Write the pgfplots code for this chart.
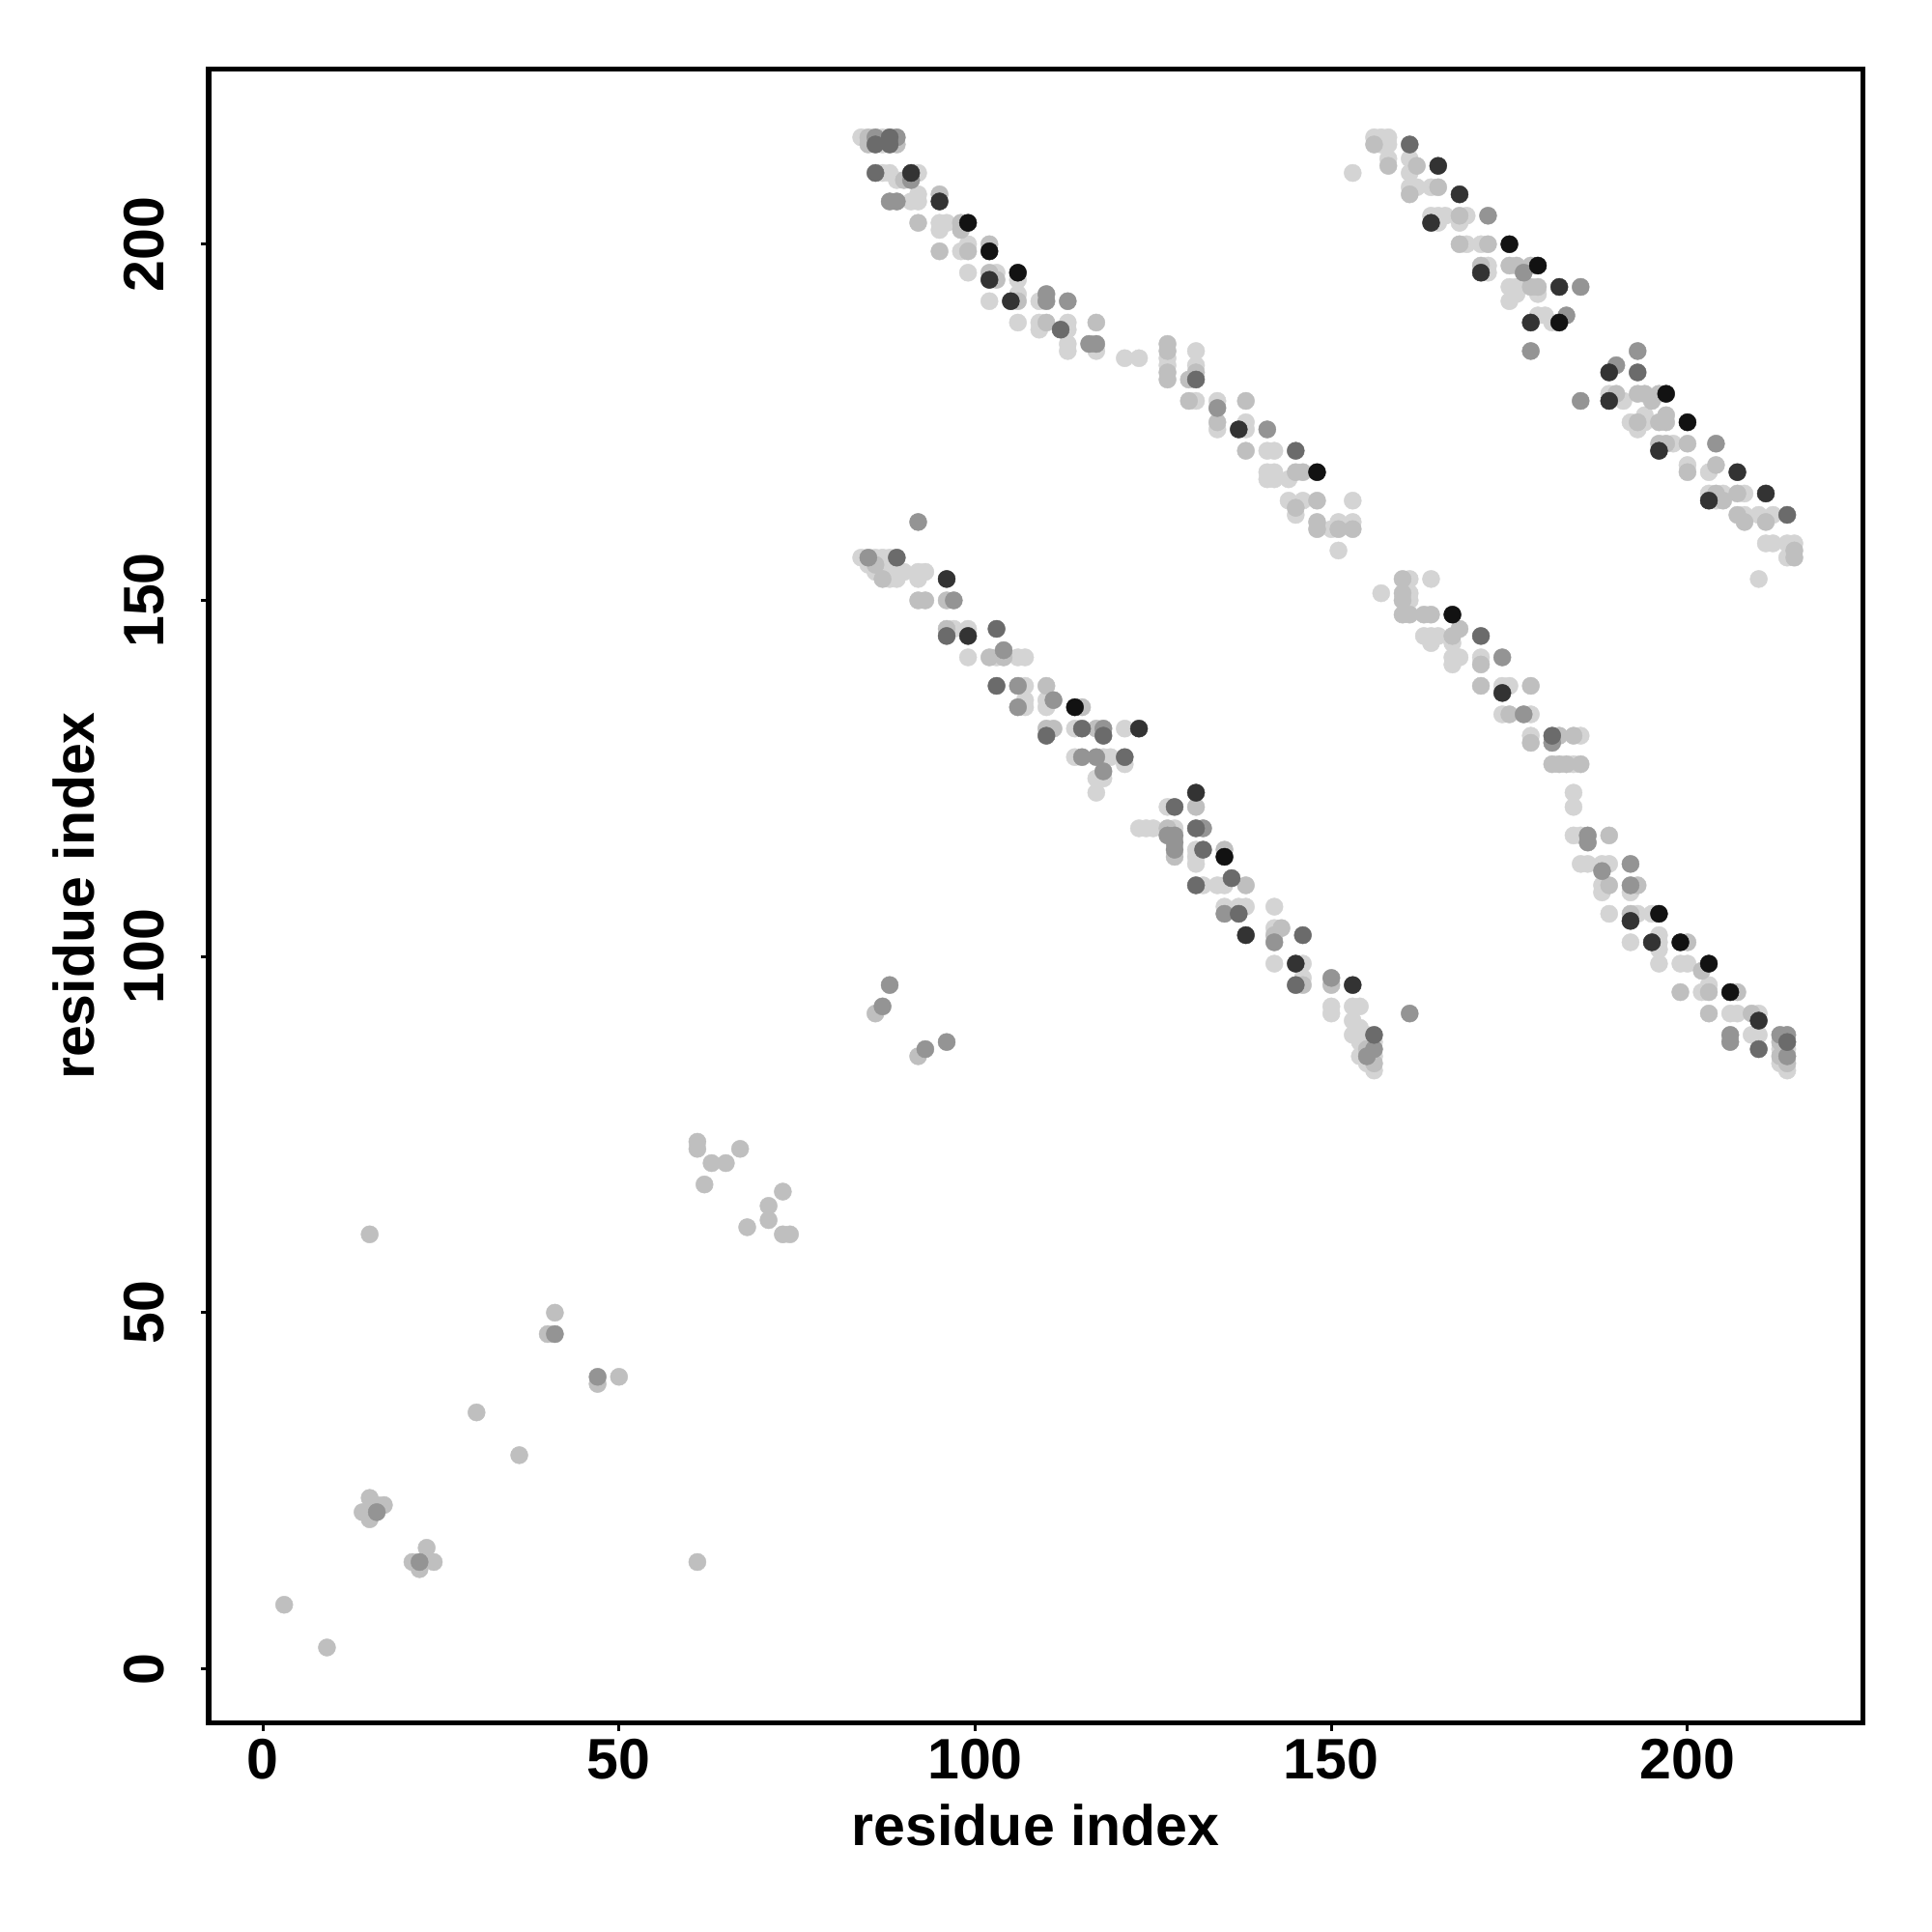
\documentclass[border=0pt]{standalone}
\usepackage{fontspec}
\setmainfont{Liberation Sans}
\usepackage{pgfplots}
\pgfplotsset{compat=1.18}
\definecolor{c1}{gray}{0.83}
\definecolor{c2}{gray}{0.75}
\definecolor{c3}{gray}{0.58}
\definecolor{c4}{gray}{0.42}
\definecolor{c5}{gray}{0.20}
\definecolor{c6}{gray}{0.07}
\begin{document}
\fontsize{13.8}{16}\selectfont\bfseries
\begin{tikzpicture}
\begin{axis}[
 scale only axis, width=400pt, height=400pt,
 xmin=-7.6, xmax=224.6, ymin=-7.6, ymax=224.6,
 xtick={0,50,100,150,200}, ytick={0,50,100,150,200},
 tick pos=left, tick align=outside, major tick length=1.9pt,
 every tick/.style={line width=0.7pt, black},
 axis line style={line width=1.2pt},
 ticklabel style={font=\fontsize{13.8}{16}\selectfont\bfseries},
 /pgf/number format/assume math mode=true,
 xticklabel style={anchor=north, inner sep=0pt},
 yticklabel style={rotate=90, anchor=south, inner sep=0pt},
 xticklabel shift=1.8pt, yticklabel shift=8.6pt,
 every axis x label/.style={at={(axis description cs:0.5,0)}, yshift=-24.8pt, anchor=center},
 every axis y label/.style={at={(axis description cs:0,0.5)}, xshift=-32.6pt, rotate=90, anchor=center},
 label style={font=\fontsize{13.8}{16}\selectfont\bfseries},
 xlabel={residue index}, ylabel={residue index},
 every axis plot/.append style={only marks, mark=*, mark size=2.1pt, mark options={line width=0.1pt}},
]
\addplot[color=c1] coordinates {
(84,215) (87,215) (87,214) (87,210) (88,210) (89,209) (92,210) (91,206) (92,206) (92,207)
(95,203) (96,203) (95,202) (98,199) (99,200) (99,196) (103,196) (106,195) (102,192) (106,193)
(109,192) (106,189) (109,189) (109,188) (113,189) (113,188) (113,186) (113,185) (117,185) (121,184)
(123,184) (127,184) (127,183) (131,185) (131,183) (131,178) (134,178) (134,174) (138,175) (138,174)
(141,171) (142,171) (141,168) (142,168) (141,167) (142,167) (144,167) (144,164) (146,164) (153,164)
(145,162) (150,160) (151,161) (153,161) (151,157) (153,210)
(156,215) (157,215) (158,215) (157,214) (158,214) (158,212) (161,212) (161,210) (161,208) (162,208)
(164,208) (164,204) (165,204) (166,204) (169,204) (165,203) (168,203) (169,200) (171,200) (172,197)
(172,196) (175,194) (176,194) (175,192) (176,193) (179,193) (179,190) (180,190) (181,189)
(189,179) (191,178) (192,175) (194,175) (194,176) (193,174) (198,172) (200,169) (203,168) (203,165)
(205,165) (208,165) (204,164) (208,162) (210,162) (212,162) (211,158) (212,158) (214,158) (215,158)
(214,156) (210,153)
(84,156) (86,156) (87,156) (88,156) (85,155) (87,155) (86,154) (87,154) (88,154) (89,154)
(90,154) (92,154) (93,154) (88,153) (89,153) (92,153) (97,146) (99,146) (99,142) (103,142)
(106,142) (107,142) (107,138) (107,135) (110,135) (107,136) (110,136) (114,132) (121,132) (114,128)
(118,128) (119,128) (121,127) (117,125) (118,125) (117,123)
(127,121) (123,118) (124,118) (125,118) (128,118) (131,115) (131,113) (131,114) (132,110) (134,110)
(135,110) (135,107) (137,107) (138,107) (142,107) (142,104) (142,99) (146,99) (146,97) (150,93)
(150,92) (153,93) (154,93) (153,91) (154,90) (153,89) (154,88) (155,89) (156,88) (156,86)
(156,84) (155,85) (154,86)
(161,153) (164,153) (157,151) (161,151) (161,150) (163,145) (164,145) (164,144) (165,145) (167,144)
(167,142) (168,142) (171,142) (167,141) (174,138) (175,138) (174,134) (178,134) (178,131) (185,131)
(184,127) (184,123) (184,121) (184,117) (185,117) (185,113) (186,113) (188,113) (189,113) (188,110)
(188,109) (192,109) (189,106) (193,106) (195,106) (192,102) (196,103) (196,102) (196,101) (196,99)
(199,99) (200,99) (202,95) (203,96) (206,92) (207,92) (210,92) (209,89) (210,89) (213,87)
(214,87) (213,85) (214,84)
};
\addplot[color=c2] coordinates {
(85,215) (85,214) (89,214) (90,209) (95,207) (92,203) (98,203) (98,202) (95,199) (99,199)
(102,200) (102,196) (103,195) (106,192) (110,189) (117,189) (127,186) (127,185) (127,182) (127,181)
(131,182) (130,181) (130,178) (138,178) (134,175) (138,171) (145,168) (146,168) (145,163) (148,164)
(148,161) (148,160) (151,160) (153,160)
(156,214) (158,211) (162,211) (165,208) (161,207) (168,204) (168,200) (172,200) (171,197) (175,197)
(176,197) (178,197) (178,194) (179,194)
(190,179) (193,179) (194,179) (196,179) (195,178) (193,175) (196,175) (197,175) (197,176) (196,172)
(197,172) (200,172) (200,168) (204,169) (204,165) (207,165) (205,164) (207,162) (208,161) (211,161)
(215,157) (215,156)
(86,155) (87,153) (92,150) (93,150) (96,150) (96,146) (102,142) (104,142) (110,138) (115,135)
(110,132) (111,132) (117,132)
(127,118) (131,121) (128,114) (135,115) (138,110) (143,104) (142,103) (146,96) (150,96) (155,87)
(156,85)
(160,153) (160,151) (160,150) (160,148) (161,148) (163,148) (164,148) (167,145) (168,146) (171,141)
(171,138) (178,138) (175,134) (178,130) (182,131) (184,131) (181,127) (182,127) (183,127) (185,127)
(189,117) (189,110) (193,110) (192,106) (200,102) (202,98) (199,95) (203,95) (207,95) (203,92)
(209,92) (213,88) (213,86) (214,85)
(3,9) (9,3) (15,61) (14,22) (15,24) (15,21) (17,23) (16,23) (21,15) (22,14)
(23,17) (24,15) (30,36) (36,30) (40,47) (41,50) (47,40) (50,41) (61,15) (61,74)
(61,73) (62,68) (63,71) (65,71) (67,73) (68,62) (71,65) (71,63) (73,67) (73,61)
(74,61) (86,92) (92,86)
};
\addplot[color=c3] coordinates {
(86,215) (89,215) (91,209) (88,206) (89,206) (110,193) (110,192) (113,192) (116,186) (117,186)
(134,177) (141,174)
(172,204) (177,196) (185,194) (183,190) (178,185) (193,185) (190,183) (185,178) (204,172)
(92,161) (85,156) (97,150) (104,143) (106,138) (106,135) (111,136) (118,132) (115,128) (117,128)
(118,126)
(127,117) (128,117) (128,116) (128,115) (132,118) (135,106) (142,102) (150,97) (161,92) (155,86)
(156,87)
(174,142) (177,134) (181,130) (186,117) (186,116) (188,112) (192,113) (192,110) (206,89) (206,88)
(213,89) (214,89) (214,86)
(16,22) (22,15) (41,47) (47,41) (88,96) (87,93) (93,87) (96,88)
};
\addplot[color=c4] coordinates {
(88,215) (86,214) (88,214) (86,210) (112,188) (131,181) (145,171) (161,214) (193,182) (214,162)
(89,156) (96,145) (103,146) (103,138) (110,131) (115,132) (118,131) (121,128)
(128,121) (131,118) (132,115) (131,110) (136,111) (137,106) (146,103) (145,96) (156,89)
(171,145) (181,131) (210,87) (214,88)
};
\addplot[color=c5] coordinates {
(91,210) (95,206) (102,195) (105,192) (137,174) (165,211) (168,207) (164,203) (171,196) (182,194)
(178,189) (189,182) (189,178) (196,171) (207,168) (203,164) (211,165)
(96,153) (99,145) (123,132) (131,123) (138,103) (145,99) (153,96) (174,137) (192,105)
(195,102) (210,91)
};
\addplot[color=c6] coordinates {
(99,203) (102,199) (106,196) (148,168) (175,200) (179,197) (182,189) (197,179) (200,175) (114,135)
(135,114) (167,148) (196,106) (199,102) (203,99) (206,95)
};
\end{axis}
\pgfresetboundingbox
\path[use as bounding box] ([xshift=-50.47pt,yshift=-50.47pt]current axis.south west) rectangle ([xshift=16.75pt,yshift=16.68pt]current axis.north east);
\end{tikzpicture}
\end{document}
